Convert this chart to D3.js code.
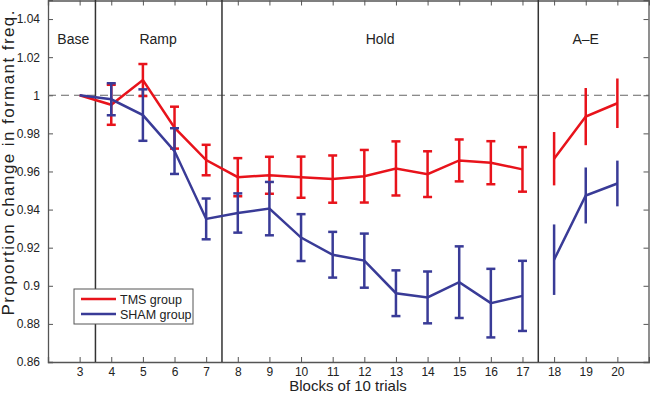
<!DOCTYPE html>
<html>
<head>
<meta charset="utf-8">
<script src="https://cdn.jsdelivr.net/npm/d3@7"></script>
<style>
  body { margin: 0; background: #fff; }
  text { font-family: "Liberation Sans", Arial, sans-serif; fill: #222; }
</style>
</head>
<body>
<svg id="chart" width="650" height="394"></svg>
<script>
// blocks
var blocks = [3, 4, 5, 6, 7, 8, 9, 10, 11, 12, 13, 14, 15, 16, 17, 18, 19, 20];

var tms_mean = [1.000, 0.995, 1.008, 0.983, 0.966, 0.957, 0.958, 0.957, 0.956, 0.9575, 0.9616, 0.9586, 0.9658, 0.9646, 0.9611, 0.9667, 0.9888, 0.9958];
var tms_err  = [0, 0.0105, 0.0084, 0.011, 0.008, 0.010, 0.0097, 0.0108, 0.0124, 0.0138, 0.0142, 0.012, 0.011, 0.0113, 0.0117, 0.014, 0.015, 0.013];

var sham_mean = [1.000, 0.9979, 0.9896, 0.9707, 0.9351, 0.9382, 0.9405, 0.9253, 0.9163, 0.9132, 0.8961, 0.8939, 0.9019, 0.8909, 0.8947, 0.9137, 0.9474, 0.9537];
var sham_err  = [0, 0.0084, 0.0135, 0.012, 0.0107, 0.0103, 0.014, 0.0123, 0.012, 0.0142, 0.012, 0.0136, 0.0188, 0.018, 0.0184, 0.0185, 0.0147, 0.012];

var y_ticks = [0.86, 0.88, 0.9, 0.92, 0.94, 0.96, 0.98, 1, 1.02, 1.04];
var phase_bounds = [3.5, 7.5, 17.5];
var phase_names = ["Base", "Ramp", "Hold", "A\u2013E"];
var phase_centers = [2.8, 5.48, 12.5, 19];

var red = "#e8131b";
var blue = "#393b97";

var svg = d3.select("#chart");
var p_left = 48, p_right = 649, p_top = 0, p_bottom = 362;

var x = d3.scaleLinear().domain([2, 21]).range([p_left, p_right]);
var y = d3.scaleLinear().domain([0.86, 1.05]).range([p_bottom, p_top]);

// build rows
function rows(means, errs)
{
  return blocks.map(function(b, i) {return {b: b, m: means[i], e: errs[i]};});
}
var tms = rows(tms_mean, tms_err);
var sham = rows(sham_mean, sham_err);

// axes, ticks inside on all sides
var ax_col = "#555";
svg.append("g").attr("transform", "translate(0," + p_bottom + ")")
  .call(d3.axisBottom(x).tickValues(blocks).tickSize(-5).tickPadding(5).tickFormat(d3.format("d")));
svg.append("g").attr("transform", "translate(0," + (p_top + 0.5) + ")")
  .call(d3.axisTop(x).tickValues(blocks).tickSize(-5).tickFormat(""));
svg.append("g").attr("transform", "translate(" + p_left + ",0)")
  .call(d3.axisLeft(y).tickValues(y_ticks).tickSize(-5).tickPadding(8).tickFormat(function(d) {return String(+d.toFixed(2));}));
svg.append("g").attr("transform", "translate(" + (p_right - 0.5) + ",0)")
  .call(d3.axisRight(y).tickValues(y_ticks).tickSize(-5).tickFormat(""));

svg.selectAll(".domain").attr("stroke", ax_col).attr("stroke-width", 1.3);
svg.selectAll(".tick line").attr("stroke", ax_col);
svg.selectAll(".tick text").style("font-size", "12px").attr("fill", "#222")
  .style("font-family", "'Liberation Sans', Arial, sans-serif");

// dashed reference at 1
svg.append("line")
  .attr("x1", p_left).attr("x2", p_right)
  .attr("y1", y(1)).attr("y2", y(1))
  .attr("stroke", "#666").attr("stroke-width", 1).attr("stroke-dasharray", "8,5");

// phase boundaries
svg.selectAll(".phase").data(phase_bounds).enter().append("line")
  .attr("x1", function(d) {return x(d);}).attr("x2", function(d) {return x(d);})
  .attr("y1", p_top).attr("y2", p_bottom)
  .attr("stroke", "#333").attr("stroke-width", 1.5);

svg.selectAll(".phaseText").data(phase_names).enter().append("text")
  .attr("x", function(d, i) {return x(phase_centers[i]);})
  .attr("y", 44)
  .attr("text-anchor", "middle")
  .style("font-size", "14px")
  .text(function(d) {return d;});

function draw_series(data, col)
{
  var line = d3.line().x(function(d) {return x(d.b);}).y(function(d) {return y(d.m);});
  var parts = [data.filter(function(d) {return d.b <= 17;}), data.filter(function(d) {return d.b >= 18;})];
  parts.forEach(function(p) {
    svg.append("path").attr("d", line(p)).attr("fill", "none")
      .attr("stroke", col).attr("stroke-width", 2.5);
  });

  var bars = data.filter(function(d) {return d.e > 0;});
  svg.selectAll(null).data(bars).enter().append("line")
    .attr("x1", function(d) {return x(d.b);}).attr("x2", function(d) {return x(d.b);})
    .attr("y1", function(d) {return y(d.m + d.e);}).attr("y2", function(d) {return y(d.m - d.e);})
    .attr("stroke", col).attr("stroke-width", 2.5);

  // caps only on blocks up to 17
  var capped = bars.filter(function(d) {return d.b <= 17;});
  [1, -1].forEach(function(s) {
    svg.selectAll(null).data(capped).enter().append("line")
      .attr("x1", function(d) {return x(d.b) - 4.5;}).attr("x2", function(d) {return x(d.b) + 4.5;})
      .attr("y1", function(d) {return y(d.m + s * d.e);}).attr("y2", function(d) {return y(d.m + s * d.e);})
      .attr("stroke", col).attr("stroke-width", 2.5);
  });
}

draw_series(tms, red);
draw_series(sham, blue);

// legend
var lg = svg.append("g").attr("transform", "translate(74,289)");
lg.append("rect").attr("width", 119).attr("height", 35)
  .attr("fill", "#fff").attr("stroke", "#555").attr("stroke-width", 1);
var legend_items = [["TMS group", red], ["SHAM group", blue]];
legend_items.forEach(function(it, i) {
  lg.append("line").attr("x1", 7).attr("x2", 42).attr("y1", 10 + i * 15).attr("y2", 10 + i * 15)
    .attr("stroke", it[1]).attr("stroke-width", 2.5);
  lg.append("text").attr("x", 46).attr("y", 15 + i * 15).style("font-size", "12.5px").text(it[0]);
});

// axis titles
svg.append("text").attr("x", 348).attr("y", 391).attr("text-anchor", "middle")
  .style("font-size", "15px").text("Blocks of 10 trials");
svg.append("text").attr("transform", "translate(13.5,163) rotate(-90)")
  .attr("text-anchor", "middle").style("font-size", "17px")
  .attr("textLength", 305).attr("lengthAdjust", "spacing")
  .text("Proportion change in formant freq.");
</script>
</body>
</html>
